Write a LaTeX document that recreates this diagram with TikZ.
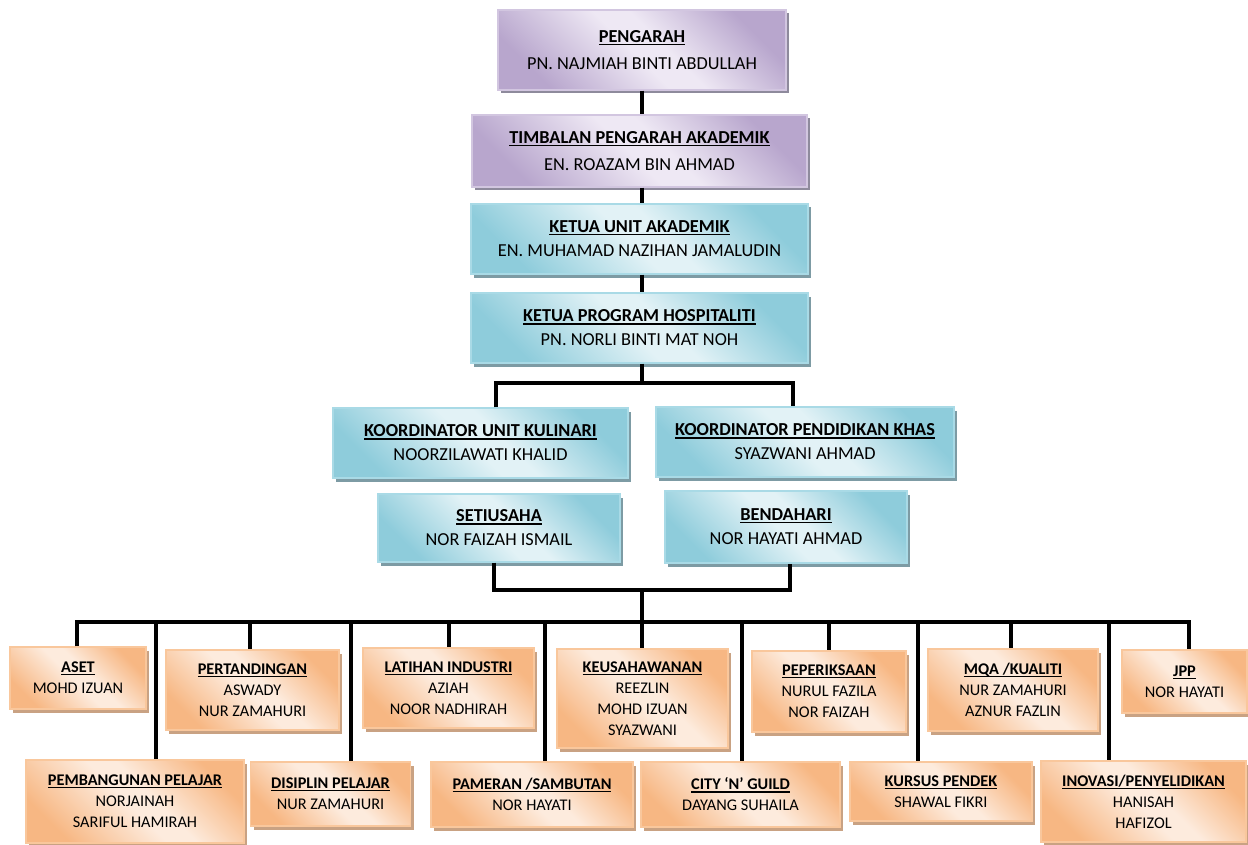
\documentclass[tikz,border=0pt]{standalone}
\usepackage{fontspec}
\setmainfont{Carlito}
\usetikzlibrary{shadows}
\definecolor{pdark}{HTML}{B8A6CD}
\definecolor{plight}{HTML}{EEE8F4}
\definecolor{pborder}{HTML}{D2C6E0}
\definecolor{pshadow}{HTML}{8E8A9C}
\definecolor{bdark}{HTML}{8ECCDB}
\definecolor{blight}{HTML}{E2F2F6}
\definecolor{bborder}{HTML}{A9DAE6}
\definecolor{bshadow}{HTML}{7D9BA4}
\definecolor{odark}{HTML}{F7B783}
\definecolor{olight}{HTML}{FDEBDD}
\definecolor{oborder}{HTML}{F9C79C}
\definecolor{oshadow}{HTML}{C9A283}
\pgfdeclarehorizontalshading{pshade}{100bp}{color(0bp)=(pdark); color(25bp)=(pdark); color(48bp)=(plight); color(55bp)=(plight); color(75bp)=(pdark); color(100bp)=(pdark)}
\pgfdeclarehorizontalshading{bshade}{100bp}{color(0bp)=(bdark); color(25bp)=(bdark); color(48bp)=(blight); color(55bp)=(blight); color(75bp)=(bdark); color(100bp)=(bdark)}
\pgfdeclarehorizontalshading{oshade}{100bp}{color(0bp)=(odark); color(25bp)=(odark); color(48bp)=(olight); color(55bp)=(olight); color(75bp)=(odark); color(100bp)=(odark)}
\newcommand{\ttlul}[1]{\setbox0=\hbox{\bfseries #1}\rlap{\rule[-2.6pt]{\wd0}{1.2pt}}\box0}
\tikzset{
  orgbox/.style={line width=1.3pt, align=center, inner sep=2pt, shading angle=45},
  pbox/.style={orgbox, draw=pborder, shading=pshade,
    drop shadow={shadow xshift=3pt, shadow yshift=-3.5pt, opacity=1, fill=pshadow},
    font=\fontsize{18.3}{27}\selectfont},
  bbox/.style={orgbox, draw=bborder, shading=bshade,
    drop shadow={shadow xshift=3pt, shadow yshift=-3.5pt, opacity=1, fill=bshadow},
    font=\fontsize{18.3}{24}\selectfont},
  obox/.style={orgbox, draw=oborder, shading=oshade,
    drop shadow={shadow xshift=3pt, shadow yshift=-3.5pt, opacity=1, fill=oshadow},
    font=\fontsize{16.3}{21}\selectfont},
  conn/.style={line width=3.6pt, black, line join=miter}
}
\begin{document}
\begin{tikzpicture}[x=1pt, y=-1pt]
\useasboundingbox (0,0) rectangle (1248,845);
% top chain
\node[pbox, minimum width=288, minimum height=80] (pengarah) at (642,50) {\ttlul{PENGARAH}\\PN. NAJMIAH BINTI ABDULLAH};
\node[pbox, minimum width=335, minimum height=72] (timbalan) at (639.5,151) {\ttlul{TIMBALAN PENGARAH AKADEMIK}\\EN. ROAZAM BIN AHMAD};
\node[bbox, minimum width=337, minimum height=70] (unit) at (639.5,239) {\ttlul{KETUA UNIT AKADEMIK}\\EN. MUHAMAD NAZIHAN JAMALUDIN};
\node[bbox, minimum width=337, minimum height=70] (program) at (639.5,328) {\ttlul{KETUA PROGRAM HOSPITALITI}\\PN. NORLI BINTI MAT NOH};
\node[bbox, minimum width=295, minimum height=70] (kulinari) at (480.5,443) {\ttlul{KOORDINATOR UNIT KULINARI}\\NOORZILAWATI KHALID};
\node[bbox, minimum width=298, minimum height=70] (khas) at (805,442) {\ttlul{KOORDINATOR PENDIDIKAN KHAS}\\SYAZWANI AHMAD};
\node[bbox, minimum width=242, minimum height=68] (setiusaha) at (499,528) {\ttlul{SETIUSAHA}\\NOR FAIZAH ISMAIL};
\node[bbox, minimum width=242, minimum height=72] (bendahari) at (786,527) {\ttlul{BENDAHARI}\\NOR HAYATI AHMAD};
% bottom top row
\node[obox, minimum width=136, minimum height=62] (aset) at (78,678) {\ttlul{ASET}\\MOHD IZUAN};
\node[obox, minimum width=173, minimum height=80] (pertandingan) at (252.5,690) {\ttlul{PERTANDINGAN}\\ASWADY\\NUR ZAMAHURI};
\node[obox, minimum width=171, minimum height=80] (latihan) at (448.5,688) {\ttlul{LATIHAN INDUSTRI}\\AZIAH\\NOOR NADHIRAH};
\node[obox, minimum width=171, minimum height=99] (keusahawanan) at (642.5,698.5) {\ttlul{KEUSAHAWANAN}\\REEZLIN\\MOHD IZUAN\\SYAZWANI};
\node[obox, minimum width=154, minimum height=81] (peperiksaan) at (829,691.5) {\ttlul{PEPERIKSAAN}\\NURUL FAZILA\\NOR FAIZAH};
\node[obox, minimum width=170, minimum height=82] (mqa) at (1013,690) {\ttlul{MQA /KUALITI}\\NUR ZAMAHURI\\AZNUR FAZLIN};
\node[obox, minimum width=125, minimum height=63] (jpp) at (1184.5,681.5) {\ttlul{JPP}\\NOR HAYATI};
% bottom lower row
\node[obox, minimum width=218, minimum height=83] (pembangunan) at (135,801.5) {\ttlul{PEMBANGUNAN PELAJAR}\\NORJAINAH\\SARIFUL HAMIRAH};
\node[obox, minimum width=160, minimum height=64] (disiplin) at (330.5,794) {\ttlul{DISIPLIN PELAJAR}\\NUR ZAMAHURI};
\node[obox, minimum width=202, minimum height=65] (pameran) at (532,794.5) {\ttlul{PAMERAN /SAMBUTAN}\\NOR HAYATI};
\node[obox, minimum width=199, minimum height=65] (city) at (740.5,794.5) {\ttlul{CITY ‘N’ GUILD}\\DAYANG SUHAILA};
\node[obox, minimum width=182, minimum height=59] (kursus) at (941,791.5) {\ttlul{KURSUS PENDEK}\\SHAWAL FIKRI};
\node[obox, minimum width=205, minimum height=81] (inovasi) at (1143.5,801.5) {\ttlul{INOVASI/PENYELIDIKAN}\\HANISAH\\HAFIZOL};
% connectors
\draw[conn] (pengarah.south) -- (pengarah.south |- timbalan.north);
\draw[conn] (timbalan.south -| pengarah.south) -- (unit.north -| pengarah.south);
\draw[conn] (unit.south -| pengarah.south) -- (program.north -| pengarah.south);
\coordinate (sL) at (496,383);
\coordinate (sR) at (793,383);
\draw[conn] (program.south -| pengarah.south) -- (sL -| pengarah.south);
\draw[conn] (sL |- kulinari.north) -- (sL) -- (sR) -- (sR |- khas.north);
\coordinate (cL) at (494,590);
\coordinate (cR) at (790,590);
\coordinate (cM) at (642,590);
\draw[conn] (cL |- setiusaha.south) -- (cL) -- (cR) -- (cR |- bendahari.south);
\coordinate (bus) at (642,622);
\draw[conn] (cM) -- (bus);
\coordinate (bL) at (77,622);
\coordinate (bR) at (1189,622);
\draw[conn] (bL |- aset.north) -- (bL) -- (bR) -- (bR |- jpp.north);
\coordinate (d2) at (156,622);
\coordinate (d3) at (250,622);
\coordinate (d4) at (351,622);
\coordinate (d5) at (449,622);
\coordinate (d6) at (545,622);
\coordinate (d7) at (642,622);
\coordinate (d8) at (742,622);
\coordinate (d9) at (829,622);
\coordinate (d10) at (918,622);
\coordinate (d11) at (1011,622);
\coordinate (d12) at (1109,622);
\draw[conn] (d2) -- (d2 |- pembangunan.north);
\draw[conn] (d3) -- (d3 |- pertandingan.north);
\draw[conn] (d4) -- (d4 |- disiplin.north);
\draw[conn] (d5) -- (d5 |- latihan.north);
\draw[conn] (d6) -- (d6 |- pameran.north);
\draw[conn] (d7) -- (d7 |- keusahawanan.north);
\draw[conn] (d8) -- (d8 |- city.north);
\draw[conn] (d9) -- (d9 |- peperiksaan.north);
\draw[conn] (d10) -- (d10 |- kursus.north);
\draw[conn] (d11) -- (d11 |- mqa.north);
\draw[conn] (d12) -- (d12 |- inovasi.north);
\end{tikzpicture}
\end{document}
